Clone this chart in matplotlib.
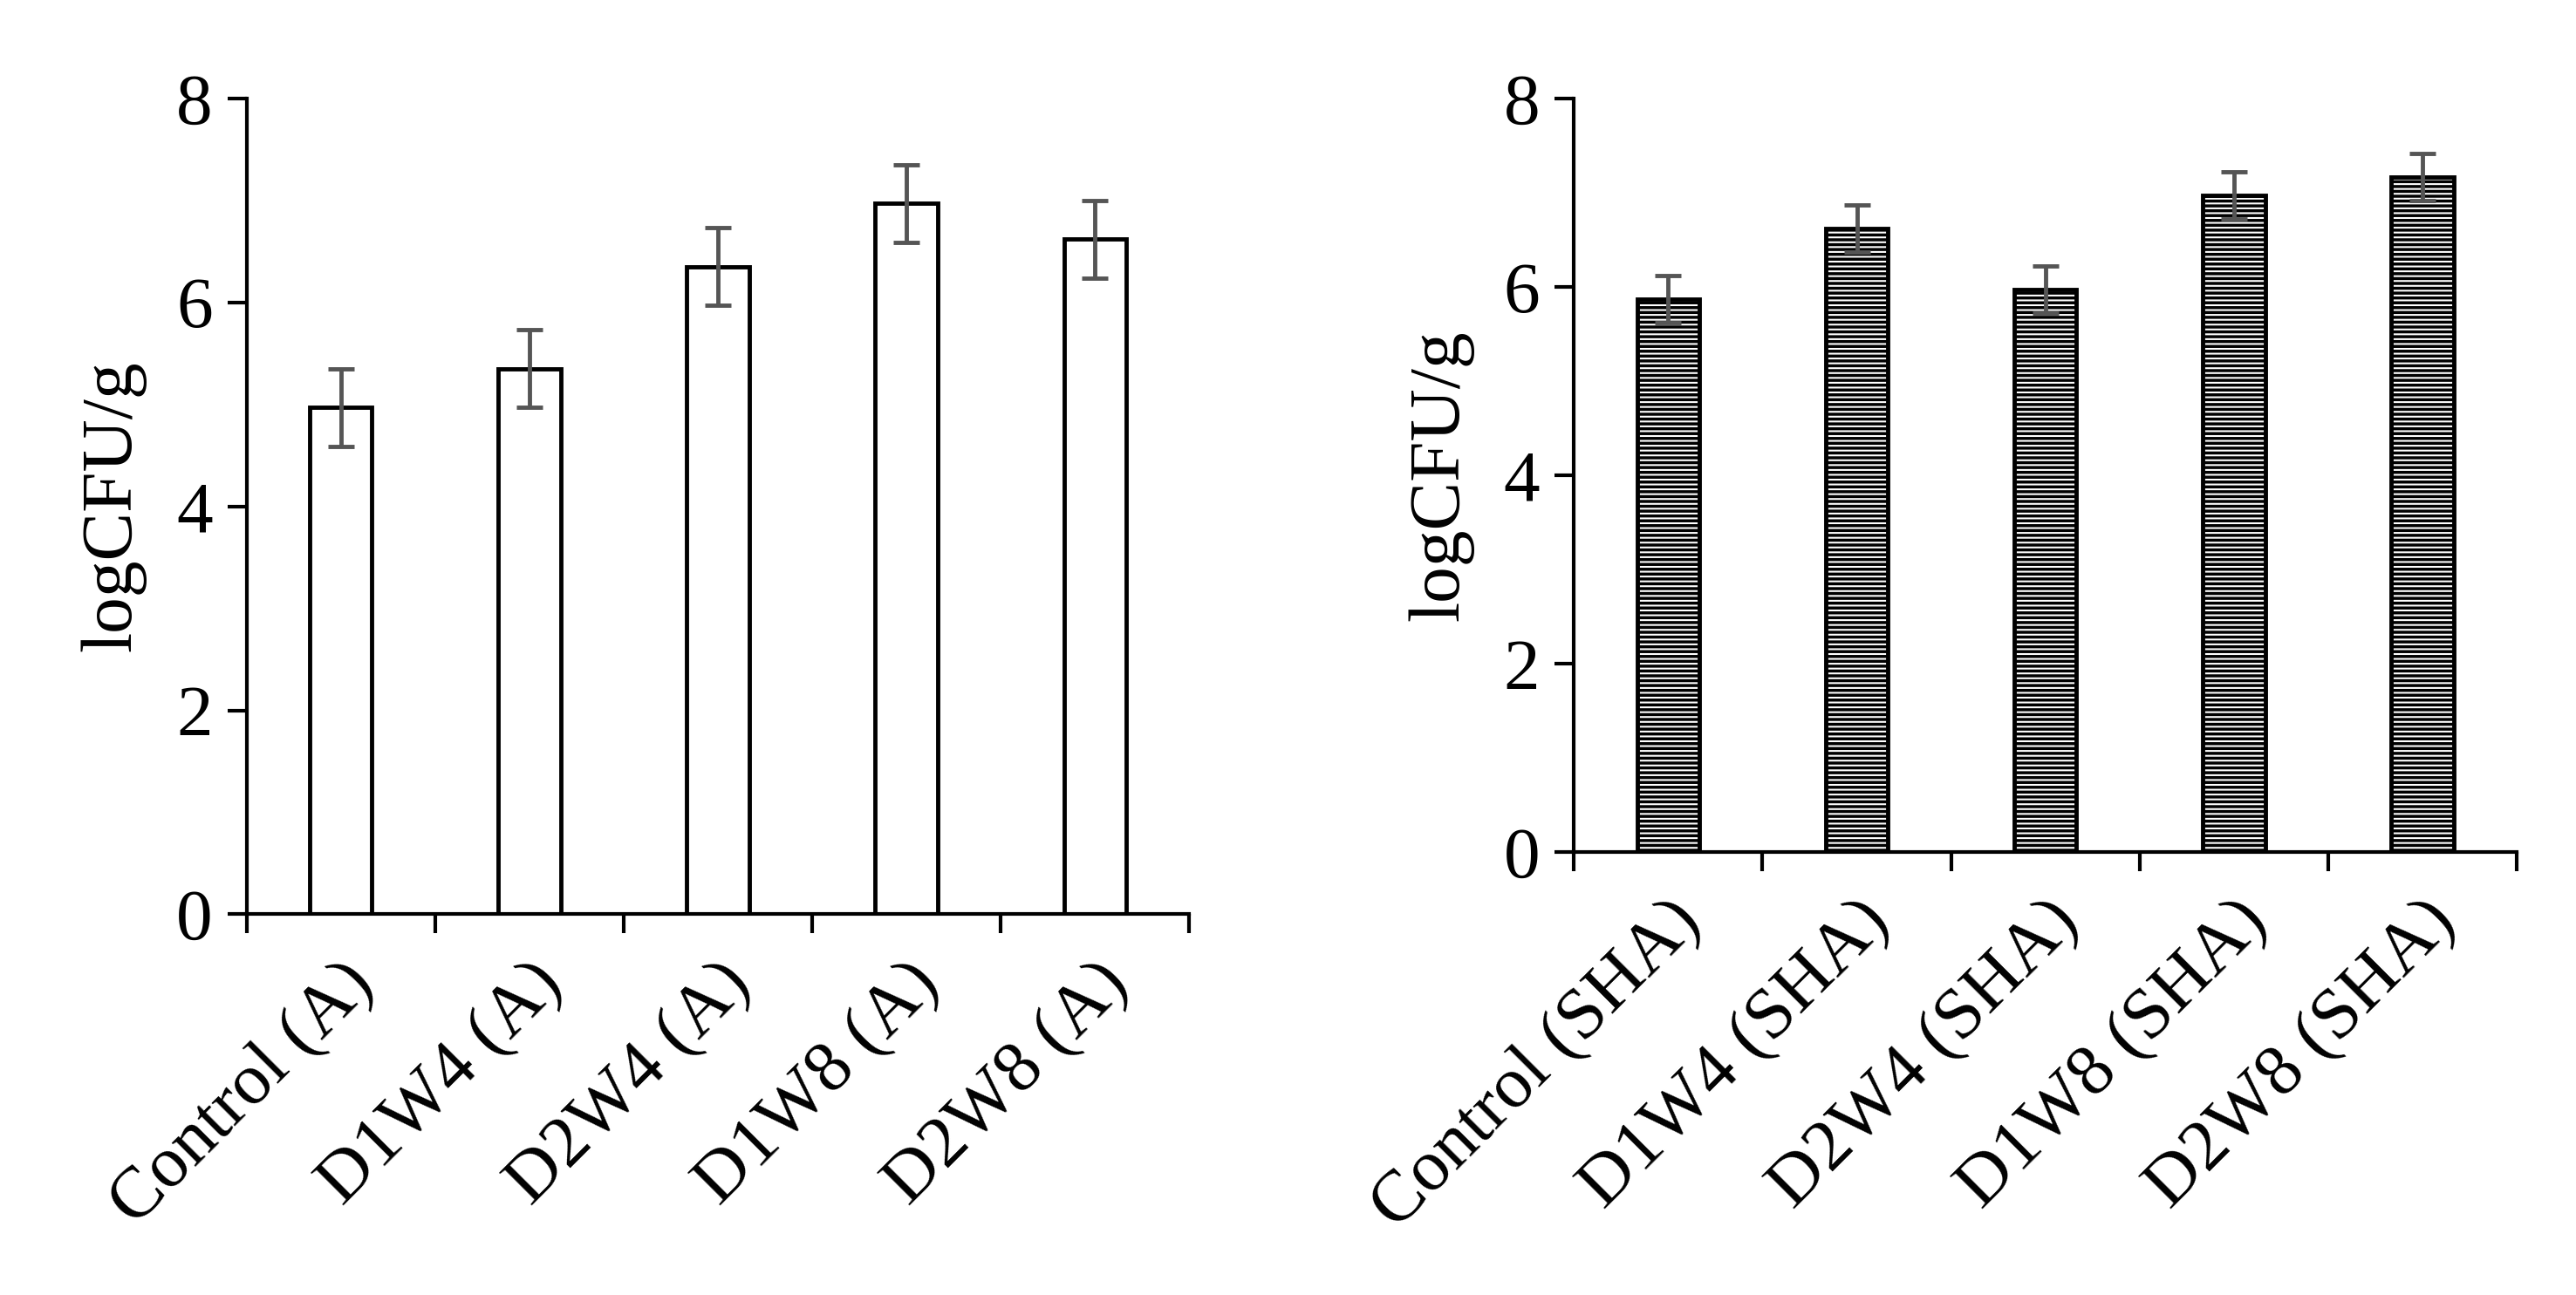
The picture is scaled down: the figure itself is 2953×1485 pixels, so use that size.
import matplotlib
matplotlib.use("Agg")
import matplotlib.pyplot as plt
import numpy as np

cats_a = ["Control (A)", "D1W4 (A)", "D2W4 (A)", "D1W8 (A)", "D2W8 (A)"]
vals_a = [4.97, 5.35, 6.35, 6.97, 6.62]
err_a = [0.38, 0.38, 0.38, 0.38, 0.38]
cats_s = ["Control (SHA)", "D1W4 (SHA)", "D2W4 (SHA)", "D1W8 (SHA)", "D2W8 (SHA)"]
vals_s = [5.87, 6.62, 5.97, 6.97, 7.17]
err_s = [0.25, 0.25, 0.25, 0.25, 0.25]
yticks = [0, 2, 4, 6, 8]

plt.rcParams['font.family'] = ['Liberation Serif', 'DejaVu Serif']
plt.rcParams['hatch.linewidth'] = 2.5
fig = plt.figure(figsize=(29.53, 14.85), dpi=100)
ax1 = fig.add_axes([0.0957, 0.294, 0.366, 0.63])
ax2 = fig.add_axes([0.611, 0.342, 0.366, 0.582])

FS = 60

def draw(ax, cats, vals, errs, hatch):
    x = np.arange(len(cats))
    ax.bar(x, vals, width=0.33, color='white', edgecolor='black', linewidth=3.5, hatch=hatch)
    ax.errorbar(x, vals, yerr=errs, fmt='none', ecolor='#555555', elinewidth=3.5, capsize=11, capthick=3.5)
    ax.set_xlim(-0.5, len(cats) - 0.5)
    ax.set_ylim(0, 8)
    ax.set_yticks(yticks)
    ax.set_xticks(np.arange(len(cats) + 1) - 0.5, minor=False)
    ax.set_xticklabels([])
    ax.set_xticks(x, minor=True)
    ax.set_xticklabels(cats, minor=True, rotation=45, ha='right', rotation_mode='anchor', fontsize=FS)
    ax.tick_params(axis='x', which='minor', length=0, pad=30)
    ax.tick_params(axis='x', which='major', length=16, width=3, direction='out')
    ax.tick_params(axis='y', length=16, width=3, labelsize=FS, pad=12)
    for s in ['top', 'right']:
        ax.spines[s].set_visible(False)
    for s in ['left', 'bottom']:
        ax.spines[s].set_linewidth(3)
    ax.set_ylabel("logCFU/g", fontsize=FS, labelpad=25)

draw(ax1, cats_a, vals_a, err_a, ':')
draw(ax2, cats_s, vals_s, err_s, '---')
fig.savefig("out.png", dpi=100)
